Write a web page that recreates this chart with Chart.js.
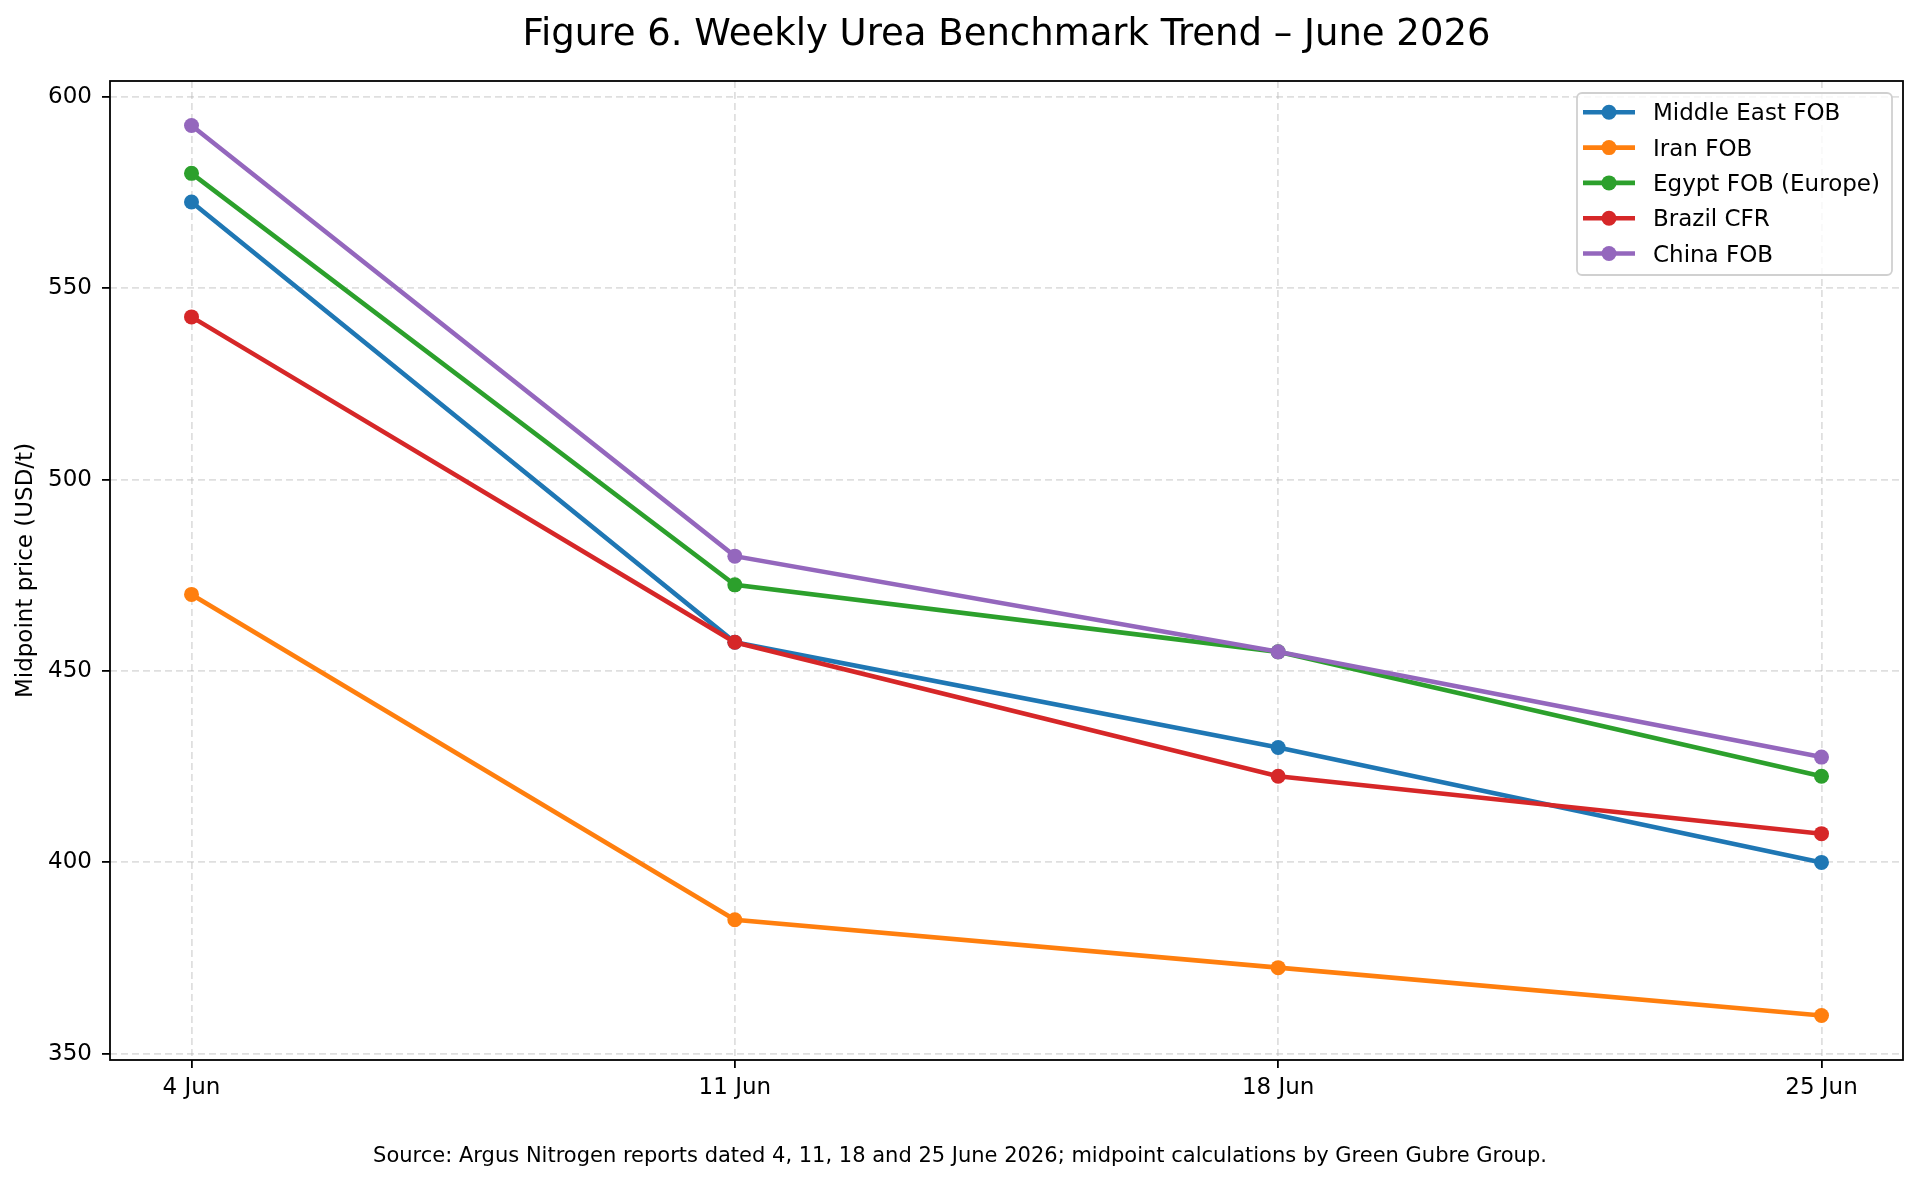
<!DOCTYPE html>
<html>
<head>
<meta charset="utf-8">
<script src="https://cdn.jsdelivr.net/npm/chart.js@4.4.1/dist/chart.umd.min.js"></script>
<style>
  html, body { margin: 0; padding: 0; background: #fff; }
  #wrap { width: 1920px; height: 1182px; position: relative; }
</style>
</head>
<body>
<div id="wrap"><canvas id="cTrend"></canvas></div>
<script>
/* ── DADOS ── */
const semanas     = ["4 Jun", "11 Jun", "18 Jun", "25 Jun"];
const yTicks      = [350, 400, 450, 500, 550, 600];
const middleEast  = [572.5, 457.5, 430, 400];
const iran        = [470, 385, 372.5, 360];
const egypt       = [580, 472.5, 455, 422.5];
const brazil      = [542.5, 457.5, 422.5, 407.5];
const china       = [592.5, 480, 455, 427.5];

const series = [
  { label: "Middle East FOB",     data: middleEast, color: "#1f77b4" },
  { label: "Iran FOB",            data: iran,       color: "#ff7f0e" },
  { label: "Egypt FOB (Europe)",  data: egypt,      color: "#2ca02c" },
  { label: "Brazil CFR",          data: brazil,     color: "#d62728" },
  { label: "China FOB",           data: china,      color: "#9467bd" }
];

const titulo = "Figure 6. Weekly Urea Benchmark Trend \u2013 June 2026";
const fonte  = "Source: Argus Nitrogen reports dated 4, 11, 18 and 25 June 2026; midpoint calculations by Green Gubre Group.";
const yLabel = "Midpoint price (USD/t)";

const FONT = "'DejaVu Sans', sans-serif";

/* ── PLUGIN: moldura, títulos e legenda estilo matplotlib ── */
const extras = {
  id: "extras",
  afterDraw(chart) {
    const ctx = chart.ctx;
    const a = chart.chartArea;
    ctx.save();

    // moldura dos 4 lados
    ctx.strokeStyle = "#000";
    ctx.lineWidth = 1.8;
    ctx.strokeRect(a.left, a.top, a.right - a.left, a.bottom - a.top);

    // título
    ctx.fillStyle = "#000";
    ctx.textAlign = "center";
    ctx.textBaseline = "alphabetic";
    ctx.font = "37px " + FONT;
    ctx.fillText(titulo, (a.left + a.right) / 2, 45);

    // fonte
    ctx.font = "21px " + FONT;
    ctx.fillText(fonte, 960, 1162);

    // rótulo eixo y
    ctx.save();
    ctx.translate(32, (a.top + a.bottom) / 2);
    ctx.rotate(-Math.PI / 2);
    ctx.font = "23px " + FONT;
    ctx.fillText(yLabel, 0, 0);
    ctx.restore();

    // legenda
    const lx = 1577, ly = 93, lw = 315, lh = 182;
    ctx.beginPath();
    ctx.roundRect(lx, ly, lw, lh, 5);
    ctx.fillStyle = "rgba(255,255,255,0.8)";
    ctx.fill();
    ctx.strokeStyle = "#d0d0d0";
    ctx.lineWidth = 1.8;
    ctx.stroke();

    ctx.font = "23px " + FONT;
    ctx.textAlign = "left";
    series.forEach((s, i) => {
      const y = 112.3 + i * 35.3;
      ctx.strokeStyle = s.color;
      ctx.lineWidth = 4.6;
      ctx.beginPath();
      ctx.moveTo(1583, y);
      ctx.lineTo(1635, y);
      ctx.stroke();
      ctx.fillStyle = s.color;
      ctx.beginPath();
      ctx.arc(1609, y, 7.5, 0, Math.PI * 2);
      ctx.fill();
      ctx.fillStyle = "#000";
      ctx.fillText(s.label, 1653, y + 8);
    });

    ctx.restore();
  }
};

/* ── GRÁFICO ── */
const gridCfg = {
  color: "rgba(176,176,176,0.4)",
  lineWidth: 1.8,
  drawTicks: true,
  tickLength: 8,
  tickColor: "#000",
  tickWidth: 1.8
};

new Chart(document.getElementById("cTrend"), {
  type: "line",
  data: {
    datasets: series.map((s, i) => ({
      label: s.label,
      data: s.data.map((v, k) => ({ x: k, y: v })),
      borderColor: s.color,
      backgroundColor: s.color,
      borderWidth: 4.6,
      pointRadius: 7.5,
      pointBorderWidth: 0,
      pointHoverRadius: 7.5,
      tension: 0,
      fill: false,
      order: series.length - i
    }))
  },
  options: {
    responsive: true,
    maintainAspectRatio: false,
    animation: false,
    layout: { padding: { left: 0, top: 81, right: 17, bottom: 0 } },
    plugins: {
      legend: { display: false },
      tooltip: { enabled: false },
      title: { display: false }
    },
    scales: {
      x: {
        type: "linear",
        min: -0.15,
        max: 3.15,
        afterBuildTicks: s => { s.ticks = semanas.map((_, i) => ({ value: i })); },
        afterFit: s => { s.height = 122; },
        ticks: {
          callback: v => semanas[v],
          color: "#000",
          font: { family: FONT, size: 23 },
          padding: 6,
          maxRotation: 0,
          autoSkip: false
        },
        grid: gridCfg,
        border: { display: false, dash: [7, 4] }
      },
      y: {
        type: "linear",
        min: 348.375,
        max: 604.125,
        afterBuildTicks: s => { s.ticks = yTicks.map(v => ({ value: v })); },
        afterFit: s => { s.width = 110; },
        ticks: {
          color: "#000",
          font: { family: FONT, size: 23 },
          padding: 10
        },
        grid: gridCfg,
        border: { display: false, dash: [7, 4] }
      }
    }
  },
  plugins: [extras]
});
</script>
</body>
</html>
